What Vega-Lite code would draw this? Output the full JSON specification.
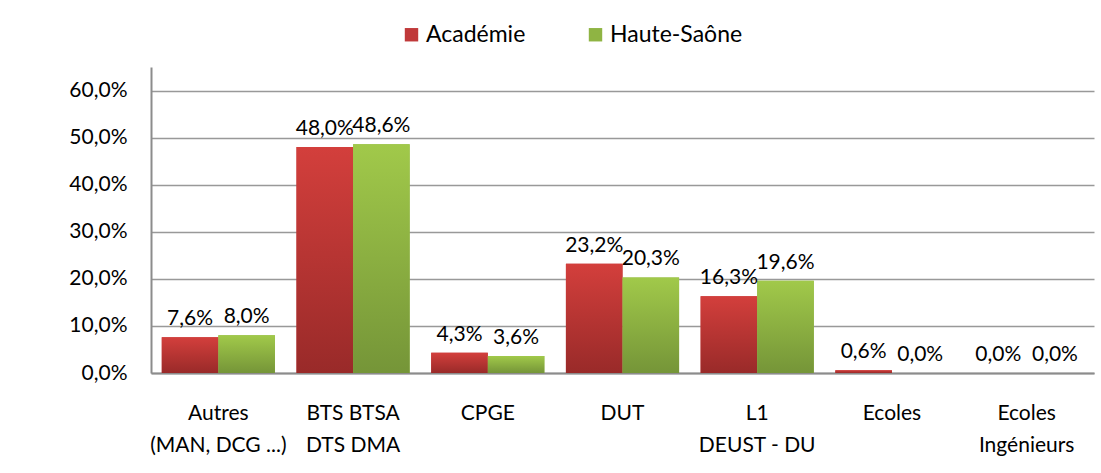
{
  "$schema": "https://vega.github.io/schema/vega-lite/v6.json",
  "width": 943,
  "height": 306,
  "autosize": {"type": "none"},
  "padding": {"left": 151, "top": 67, "right": 7, "bottom": 100},
  "background": "white",
  "config": {
    "view": {"stroke": null},
    "font": "Lato",
    "locale": {"number": {"decimal": ",", "thousands": " ", "grouping": [3], "currency": ["", " €"], "percent": "%"}}
  },
  "data": {
    "values": [
      {"cat": "Autres\n(MAN, DCG ...)", "serie": "Académie", "v": 0.076},
      {"cat": "Autres\n(MAN, DCG ...)", "serie": "Haute-Saône", "v": 0.080},
      {"cat": "BTS BTSA\nDTS  DMA", "serie": "Académie", "v": 0.480},
      {"cat": "BTS BTSA\nDTS  DMA", "serie": "Haute-Saône", "v": 0.486},
      {"cat": "CPGE", "serie": "Académie", "v": 0.043},
      {"cat": "CPGE", "serie": "Haute-Saône", "v": 0.036},
      {"cat": "DUT", "serie": "Académie", "v": 0.232},
      {"cat": "DUT", "serie": "Haute-Saône", "v": 0.203},
      {"cat": "L1\nDEUST - DU", "serie": "Académie", "v": 0.163},
      {"cat": "L1\nDEUST - DU", "serie": "Haute-Saône", "v": 0.196},
      {"cat": "Ecoles", "serie": "Académie", "v": 0.006},
      {"cat": "Ecoles", "serie": "Haute-Saône", "v": 0.0},
      {"cat": "Ecoles\nIngénieurs", "serie": "Académie", "v": 0.0},
      {"cat": "Ecoles\nIngénieurs", "serie": "Haute-Saône", "v": 0.0}
    ]
  },
  "encoding": {
    "x": {
      "field": "cat", "type": "nominal", "sort": null,
      "scale": {"paddingInner": 0.16, "paddingOuter": 0.08},
      "axis": {
        "title": null, "labelAngle": 0, "labelExpr": "split(datum.value, '\\n')",
        "labelFontSize": 21, "labelColor": "#000", "labelPadding": 40, "labelLineHeight": 32,
        "labelBaseline": "middle", "ticks": false, "domainColor": "#8c8c8c", "domainWidth": 2,
        "labelFont": "Lato"
      }
    },
    "xOffset": {"field": "serie", "type": "nominal", "scale": {"domain": ["Académie", "Haute-Saône"]}},
    "y": {
      "field": "v", "type": "quantitative",
      "scale": {"domain": [0, 0.65], "nice": false},
      "axis": {
        "title": null, "format": ".1%", "values": [0, 0.1, 0.2, 0.3, 0.4, 0.5, 0.6],
        "labelFontSize": 21, "labelColor": "#000", "labelPadding": 24, "ticks": false,
        "domainColor": "#8c8c8c", "domainWidth": 2, "gridColor": "#999999", "gridWidth": 1.6,
        "labelFont": "Lato"
      }
    }
  },
  "layer": [
    {
      "mark": {"type": "bar"},
      "encoding": {
        "color": {
          "field": "serie", "type": "nominal",
          "scale": {"domain": ["Académie", "Haute-Saône"], "range": ["#c0393a", "#8fb443"]},
          "legend": {
            "title": null, "orient": "none", "direction": "horizontal", "legendX": 249, "legendY": -44,
            "symbolType": "square", "symbolSize": 180, "labelFontSize": 23, "labelColor": "#000",
            "columnPadding": 58, "labelOffset": 3, "symbolStrokeWidth": 0
          }
        }
      }
    },
    {
      "transform": [{"filter": "datum.serie === 'Académie'"}],
      "mark": {"type": "bar", "color": {"gradient": "linear", "x1": 0, "y1": 0, "x2": 0, "y2": 1, "stops": [{"offset": 0, "color": "#d33f3c"}, {"offset": 1, "color": "#992a29"}]}}
    },
    {
      "transform": [{"filter": "datum.serie === 'Haute-Saône'"}],
      "mark": {"type": "bar", "color": {"gradient": "linear", "x1": 0, "y1": 0, "x2": 0, "y2": 1, "stops": [{"offset": 0, "color": "#a1c94a"}, {"offset": 1, "color": "#759538"}]}}
    },
    {
      "mark": {"type": "text", "baseline": "bottom", "dy": -8, "fontSize": 21, "color": "#000"},
      "encoding": {
        "text": {"field": "v", "type": "quantitative", "format": ".1%"}
      }
    }
  ]
}
